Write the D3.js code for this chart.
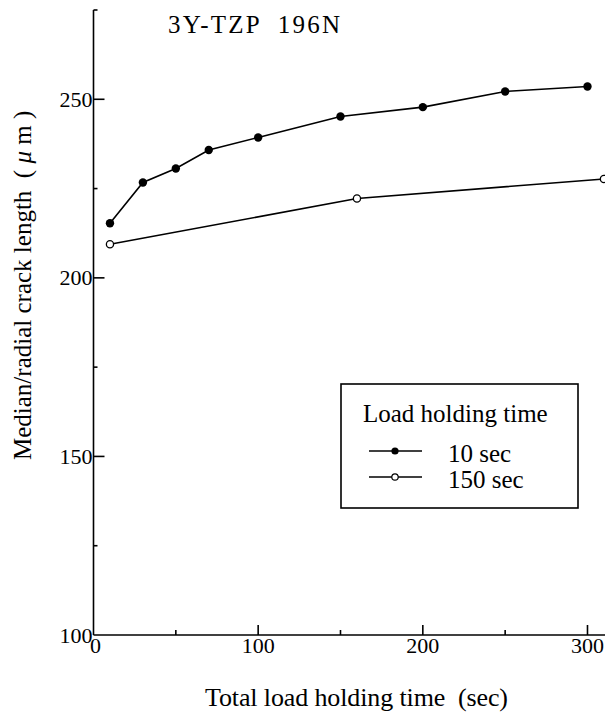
<!DOCTYPE html>
<html>
<head>
<meta charset="utf-8">
<script src="https://cdn.jsdelivr.net/npm/d3@7.9.0/dist/d3.min.js"></script>
<style>
  html, body { margin: 0; padding: 0; background: #fff; }
  svg { display: block; font-family: "Liberation Serif", "DejaVu Serif", serif; }
</style>
</head>
<body>
<svg id="chart" width="605" height="716"></svg>
<script>
// data
const timesShort = [10, 30, 50, 70, 100, 150, 200, 250, 300];
const crackShort = [215.3, 226.7, 230.6, 235.8, 239.3, 245.2, 247.8, 252.2, 253.6];

const timesLong = [10, 160, 310];
const crackLong = [209.4, 222.2, 227.7];

const xMajorTicks = [0, 100, 200, 300];
const xMinorTicks = [50, 150, 250];
const yMajorTicks = [100, 150, 200, 250];
const yMinorTicks = [125, 175, 225, 275];

const seriesNames = ["10 sec", "150 sec"];

const svg = d3.select('#chart');

const x = d3.scaleLinear().domain([0, 311]).range([93.5, 605.6]);
const y = d3.scaleLinear().domain([100, 275]).range([635, 10]);

const axisG = svg.append('g').attr('stroke', '#000').attr('stroke-width', 1.6);

// axis lines
axisG.append('line')
    .attr('x1', x(0)).attr('x2', x(0))
    .attr('y1', y(100)).attr('y2', y(275));
axisG.append('line')
    .attr('x1', x(0)).attr('x2', x(311))
    .attr('y1', y(100)).attr('y2', y(100));

// ticks point inward
xMajorTicks.filter(d => d > 0).forEach(d => {
    axisG.append('line')
        .attr('x1', x(d)).attr('x2', x(d))
        .attr('y1', y(100)).attr('y2', y(100) - 10);
});
xMinorTicks.forEach(d => {
    axisG.append('line')
        .attr('x1', x(d)).attr('x2', x(d))
        .attr('y1', y(100)).attr('y2', y(100) - 5);
});
yMajorTicks.filter(d => d > 100).forEach(d => {
    axisG.append('line')
        .attr('x1', x(0)).attr('x2', x(0) + 11)
        .attr('y1', y(d)).attr('y2', y(d));
});
yMinorTicks.forEach(d => {
    axisG.append('line')
        .attr('x1', x(0)).attr('x2', x(0) + 4)
        .attr('y1', y(d)).attr('y2', y(d));
});

// tick labels
svg.append('g').selectAll('text')
    .data(xMajorTicks)
    .join('text')
    .attr('x', d => x(d) + (d === 0 ? 2 : 0))
    .attr('y', y(100) + 18)
    .attr('text-anchor', 'middle')
    .attr('font-size', 22)
    .text(d => d);

svg.append('g').selectAll('text')
    .data(yMajorTicks)
    .join('text')
    .attr('x', x(0) - 1)
    .attr('y', d => y(d) + 7.5)
    .attr('text-anchor', 'end')
    .attr('font-size', 22)
    .text(d => d);

// axis titles
svg.append('text')
    .attr('x', 205)
    .attr('y', 706)
    .attr('font-size', 26)
    .attr('textLength', 303)
    .attr('lengthAdjust', 'spacing')
    .attr('xml:space', 'preserve')
    .text('Total load holding time  (sec)');

const yTitle = svg.append('text')
    .attr('transform', 'translate(31,460) rotate(-90)')
    .attr('font-size', 25)
    .attr('xml:space', 'preserve');
yTitle.append('tspan').text('Median/radial crack length  ( ');
yTitle.append('tspan').attr('font-style', 'italic').text('μ');
yTitle.append('tspan').text(' m )');

// chart title
svg.append('text')
    .attr('x', 168)
    .attr('y', 33)
    .attr('font-size', 25)
    .attr('textLength', 172)
    .attr('lengthAdjust', 'spacing')
    .attr('xml:space', 'preserve')
    .text('3Y-TZP  196N');

// lines
const line = d3.line().x(d => x(d[0])).y(d => y(d[1]));
const shortPts = timesShort.map((t, i) => [t, crackShort[i]]);
const longPts = timesLong.map((t, i) => [t, crackLong[i]]);

svg.append('path')
    .attr('d', line(shortPts))
    .attr('fill', 'none')
    .attr('stroke', '#000')
    .attr('stroke-width', 1.6);
svg.append('path')
    .attr('d', line(longPts))
    .attr('fill', 'none')
    .attr('stroke', '#000')
    .attr('stroke-width', 1.6);

svg.append('g').selectAll('circle')
    .data(shortPts)
    .join('circle')
    .attr('cx', d => x(d[0]))
    .attr('cy', d => y(d[1]))
    .attr('r', 4.2)
    .attr('fill', '#000');

svg.append('g').selectAll('circle')
    .data(longPts)
    .join('circle')
    .attr('cx', d => x(d[0]))
    .attr('cy', d => y(d[1]))
    .attr('r', 3.6)
    .attr('fill', '#fff')
    .attr('stroke', '#000')
    .attr('stroke-width', 1.3);

// legend
const legend = svg.append('g');
legend.append('rect')
    .attr('x', 341).attr('y', 384)
    .attr('width', 237).attr('height', 124)
    .attr('fill', '#fff')
    .attr('stroke', '#000')
    .attr('stroke-width', 1.6);
legend.append('text')
    .attr('x', 363).attr('y', 422)
    .attr('font-size', 25)
    .text('Load holding time');

seriesNames.forEach((name, i) => {
    const ly = 451 + i * 26;
    legend.append('line')
        .attr('x1', 369).attr('x2', 422)
        .attr('y1', ly).attr('y2', ly)
        .attr('stroke', '#000')
        .attr('stroke-width', 1.6);
    legend.append('circle')
        .attr('cx', 395).attr('cy', ly)
        .attr('r', i === 0 ? 3.6 : 3.2)
        .attr('fill', i === 0 ? '#000' : '#fff')
        .attr('stroke', '#000')
        .attr('stroke-width', i === 0 ? 0 : 1.2);
    legend.append('text')
        .attr('x', 448).attr('y', ly + 11)
        .attr('font-size', 25)
        .text(name);
});
</script>
</body>
</html>
